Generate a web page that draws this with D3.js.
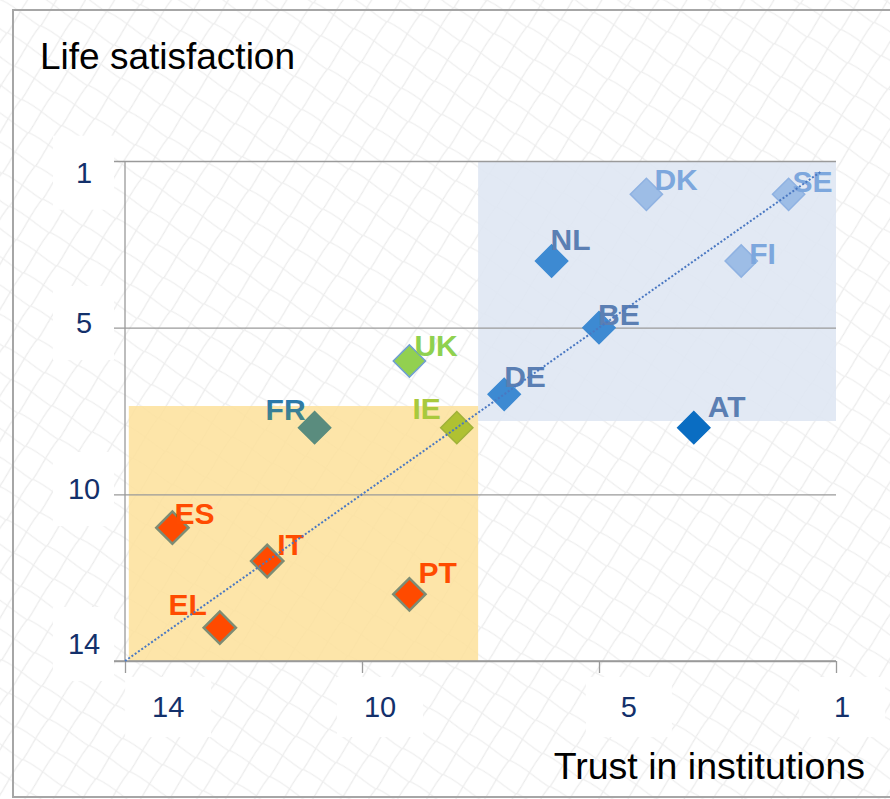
<!DOCTYPE html>
<html>
<head>
<meta charset="utf-8">
<script src="https://cdn.jsdelivr.net/npm/d3@7"></script>
<style>
    body { margin: 0; background: #fff; }
    svg { display: block; font-family: "Liberation Sans", Arial, sans-serif; }
</style>
</head>
<body>
<svg class="canvas" width="890" height="799"></svg>
<script>
// ranks (1 = best)
var countries  = ['SE', 'DK', 'FI', 'NL', 'BE', 'AT', 'DE', 'UK', 'IE', 'FR', 'PT', 'IT', 'EL', 'ES'];
var trustRank  = [1, 4, 2, 6, 5, 3, 7, 9, 8, 11, 9, 12, 13, 14];
var lifeRank   = [1, 1, 3, 3, 5, 8, 7, 6, 8, 8, 13, 12, 14, 11];
var groups     = ['top', 'top', 'top', 'mid', 'mid', 'at', 'mid', 'uk', 'ie', 'fr', 'south', 'south', 'south', 'south'];

var xTickLabels = ['14', '10', '5', '1'];
var xLabelAt    = [14.09, 9.62, 4.37, -0.13];
var yTickLabels = ['1', '5', '10', '14'];
var yLabelAt    = [0.35, 4.86, 9.84, 14.49];
var gridValues  = [0, 5, 10, 15];

var blueZone   = {x: [7.55, 0], y: [0, 7.8]};
var yellowZone = {x: [14.92, 7.55], y: [7.35, 15]};
var trendLine  = [[15, 15], [0.3, 0.3]];

var fills = {top: '#9dbde6', mid: '#3d8ad2', at: '#0a6dc2', uk: '#92d050', ie: '#afc132', fr: '#5a8c7e', south: '#ff4a00'};
var strokes = {top: '#8fb2e2', mid: '#3d8ad2', at: '#0a6dc2', uk: '#6f9fd0', ie: '#a0b23a', fr: '#5a8c7e', south: '#7d8c74'};
var labelColors = {top: '#7da7dd', mid: '#5b7fb3', at: '#5b7fb3', uk: '#8fd14f', ie: '#a9c93c', fr: 'url(#frGrad)', south: '#ff4b00'};

// label placement relative to marker centre: dx, dy (baseline), anchor
var labelPos = {
    SE: [4, -2, 'start'], DK: [8, -4, 'start'], FI: [8, 3, 'start'], NL: [-1, -11, 'start'],
    BE: [-1, -3, 'start'], AT: [14, -11, 'start'], DE: [0, -7, 'start'], UK: [5, -5, 'start'],
    IE: [-16, -9, 'end'], FR: [-9, -8, 'end'], PT: [9, -11, 'start'], IT: [10, -6, 'start'],
    EL: [-13, -13, 'end'], ES: [2, -4, 'start']
};

var data = countries.map(function (c, i) {
    return {name: c, trust: trustRank[i], life: lifeRank[i], group: groups[i]};
});

var svg = d3.select('.canvas');
var defs = svg.append('defs');

// faint guilloche-like mesh in the background
var pat = defs.append('pattern')
    .attr('id', 'waves')
    .attr('patternUnits', 'userSpaceOnUse')
    .attr('width', 34).attr('height', 34)
    .attr('patternTransform', 'rotate(-12)');
pat.append('path')
    .attr('d', 'M-2,36 C10,26 20,10 36,-2')
    .attr('fill', 'none').attr('stroke', '#e9e9e9').attr('stroke-width', 1.1);
pat.append('path')
    .attr('d', 'M-2,-2 C14,8 22,24 36,36')
    .attr('fill', 'none').attr('stroke', '#ededed').attr('stroke-width', 1.1);

var grad = defs.append('linearGradient')
    .attr('id', 'frGrad').attr('x1', 0).attr('y1', 0).attr('x2', 0).attr('y2', 1);
grad.append('stop').attr('offset', '0%').attr('stop-color', '#1f72bd');
grad.append('stop').attr('offset', '100%').attr('stop-color', '#4e8a78');

svg.append('rect')
    .attr('width', 890).attr('height', 799)
    .attr('fill', 'url(#waves)');

svg.append('rect')
    .attr('x', 13).attr('y', 10)
    .attr('width', 890).attr('height', 787)
    .attr('fill', 'none')
    .attr('stroke', '#a6a6a6')
    .attr('stroke-width', 2);

var x = d3.scaleLinear().domain([15, 0]).range([125, 836]);
var y = d3.scaleLinear().domain([0, 15]).range([161, 661]);

// shaded zones
[[blueZone, '#dee6f2', 0.88], [yellowZone, '#fde19a', 0.85]].forEach(function (z) {
    var zone = z[0];
    svg.append('rect')
        .attr('x', x(zone.x[0]))
        .attr('y', y(zone.y[0]))
        .attr('width', x(zone.x[1]) - x(zone.x[0]))
        .attr('height', y(zone.y[1]) - y(zone.y[0]))
        .attr('fill', z[1])
        .attr('fill-opacity', z[2]);
});

// grid + axes
svg.append('g')
    .attr('transform', 'translate(' + x(15) + ',0)')
    .call(d3.axisLeft(y).tickValues(gridValues).tickSize(-(x(0) - x(15))).tickSizeOuter(0).tickFormat(''))
    .call(function (g) {
        g.select('.domain').remove();
        g.selectAll('.tick line').attr('stroke', '#9a9a9a').attr('stroke-width', 1.3)
            .attr('x1', -11);
    });

svg.append('line')
    .attr('x1', x(15)).attr('x2', x(15))
    .attr('y1', y(0)).attr('y2', y(15))
    .attr('stroke', '#9a9a9a').attr('stroke-width', 1.3);

svg.append('g')
    .attr('transform', 'translate(0,' + y(15) + ')')
    .call(d3.axisBottom(x).tickValues(gridValues).tickSize(12).tickSizeOuter(0).tickFormat(''))
    .call(function (g) {
        g.select('.domain').attr('stroke', '#9a9a9a').attr('stroke-width', 1.3)
            .attr('d', 'M' + (x(15) - 11) + ',0H' + x(0));
        g.selectAll('.tick line').attr('stroke', '#9a9a9a').attr('stroke-width', 1.3);
    });

// tick labels in white boxes
var yLab = svg.append('g').selectAll('g')
    .data(yTickLabels)
    .enter().append('g')
    .attr('transform', function (d, i) { return 'translate(84,' + y(yLabelAt[i]) + ')'; });
yLab.append('rect')
    .attr('x', -31).attr('y', -37).attr('width', 61).attr('height', 74)
    .attr('fill', '#fff');
yLab.append('text')
    .attr('text-anchor', 'middle')
    .attr('dy', '0.36em')
    .attr('font-size', 29)
    .attr('fill', '#13306b')
    .text(function (d) { return d; });

var xLab = svg.append('g').selectAll('g')
    .data(xTickLabels)
    .enter().append('g')
    .attr('transform', function (d, i) { return 'translate(' + x(xLabelAt[i]) + ',707)'; });
xLab.append('rect')
    .attr('x', -43).attr('y', -30).attr('width', 86).attr('height', 60)
    .attr('fill', '#fff');
xLab.append('text')
    .attr('text-anchor', 'middle')
    .attr('dy', '0.36em')
    .attr('font-size', 29)
    .attr('fill', '#13306b')
    .text(function (d) { return d; });

// axis titles
svg.append('text')
    .attr('x', 40).attr('y', 69)
    .attr('font-size', 37)
    .attr('fill', '#000')
    .text('Life satisfaction');

svg.append('text')
    .attr('x', 865).attr('y', 779)
    .attr('text-anchor', 'end')
    .attr('font-size', 37.5)
    .attr('fill', '#000')
    .text('Trust in institutions');

// markers
var diamond = d3.symbol().type(d3.symbolSquare).size(520);

svg.append('g').selectAll('path')
    .data(data)
    .enter().append('path')
    .attr('d', diamond)
    .attr('transform', function (d) { return 'translate(' + x(d.trust) + ',' + y(d.life) + ') rotate(45)'; })
    .attr('fill', function (d) { return fills[d.group]; })
    .attr('stroke', function (d) { return strokes[d.group]; })
    .attr('stroke-width', function (d) { return d.group === 'south' ? 2.5 : 1.5; });

svg.append('g').selectAll('text')
    .data(data)
    .enter().append('text')
    .attr('x', function (d) { return x(d.trust) + labelPos[d.name][0]; })
    .attr('y', function (d) { return y(d.life) + labelPos[d.name][1]; })
    .attr('text-anchor', function (d) { return labelPos[d.name][2]; })
    .attr('font-size', 30)
    .attr('font-weight', 'bold')
    .attr('fill', function (d) { return labelColors[d.group]; })
    .text(function (d) { return d.name; });

// diagonal trend line
svg.append('path')
    .datum(trendLine)
    .attr('d', d3.line().x(function (d) { return x(d[0]); }).y(function (d) { return y(d[1]); }))
    .attr('fill', 'none')
    .attr('stroke', '#4a78c2')
    .attr('stroke-width', 2)
    .attr('stroke-dasharray', '2,2');
</script>
</body>
</html>
